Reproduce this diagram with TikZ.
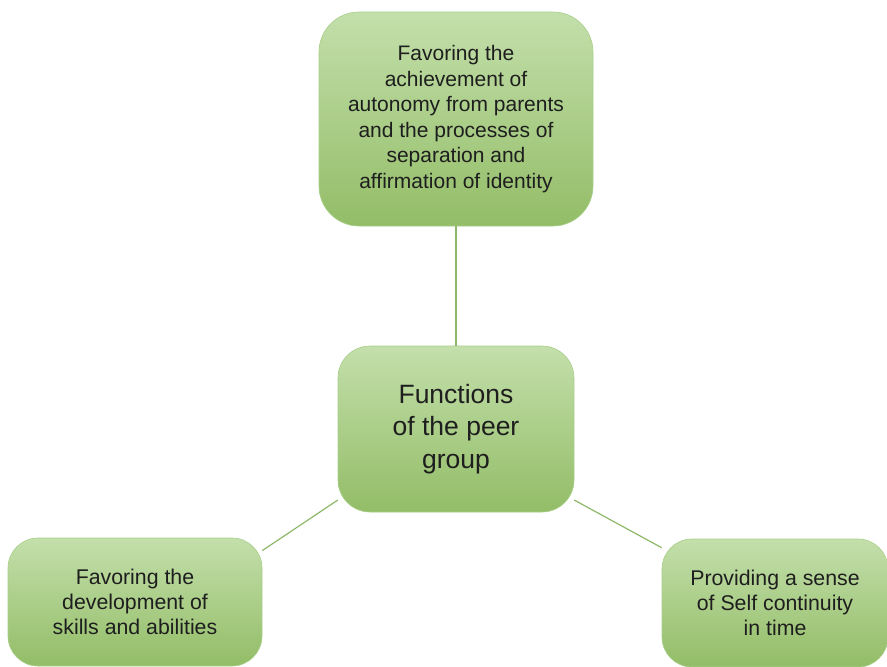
\documentclass[tikz,border=0pt]{standalone}
\usepackage{fontspec}
\setmainfont{Liberation Sans}
\begin{document}
\begin{tikzpicture}[x=1pt,y=-1pt,
  box/.style={rectangle, rounded corners=#1, draw=boxedge, line width=0.6pt,
    top color=boxtop, bottom color=boxbot, inner sep=0pt, align=center,
    text=textc},
  box/.default=36pt,
  link/.style={draw=linec, line width=1.2pt}]
\definecolor{boxtop}{HTML}{C3DFAB}
\definecolor{boxbot}{HTML}{93BD67}
\definecolor{boxedge}{HTML}{A9CF8A}
\definecolor{linec}{HTML}{8DB86A}
\definecolor{textc}{HTML}{1E1E1E}
\useasboundingbox (0,0) rectangle (887,667);
\node[box=40pt, minimum width=274pt, minimum height=214pt,
  font=\fontsize{21}{25.6}\selectfont] (top) at (456,119)
  {Favoring the\\achievement of\\autonomy from parents\\and the processes of\\separation and\\affirmation of identity};
\node[box=32pt, minimum width=236pt, minimum height=166pt,
  font=\fontsize{26.5}{32.5}\selectfont] (c) at (456,429)
  {Functions\\of the peer\\group};
\node[box=30pt, minimum width=254pt, minimum height=128pt,
  font=\fontsize{21.3}{25}\selectfont] (bl) at (135,602)
  {Favoring the\\development of\\skills and abilities};
\node[box=30pt, minimum width=226pt, minimum height=128pt,
  font=\fontsize{21.3}{25}\selectfont] (br) at (775,603)
  {Providing a sense\\of Self continuity\\in time};
\draw[link] (top.south) -- (c.north);
\draw[link] (c.211.8) -- (bl.22.5);
\draw[link] (c.329.6) -- (br.154.2);
\end{tikzpicture}
\end{document}
